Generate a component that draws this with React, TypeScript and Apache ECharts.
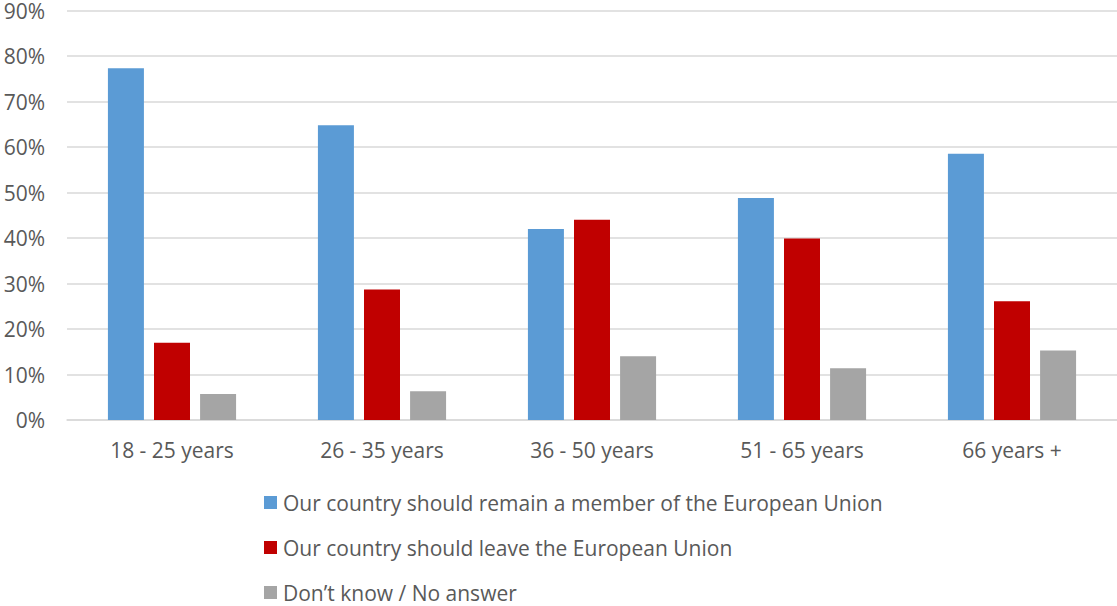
import React, { useEffect, useRef } from "react";
import * as echarts from "echarts";

const categories = ["18 - 25 years", "26 - 35 years", "36 - 50 years", "51 - 65 years", "66 years +"];
const remainValues = [77.3, 64.8, 42.0, 48.8, 58.5];
const leaveValues = [17.0, 28.7, 44.0, 39.9, 26.1];
const dontKnowValues = [5.7, 6.3, 14.0, 11.4, 15.3];
const seriesNames = [
  "Our country should remain a member of the European Union",
  "Our country should leave the European Union",
  "Don\u2019t know / No answer",
];
const colors = ["#5B9BD5", "#C00000", "#A5A5A5"];

export default function App() {
  const ref = useRef<HTMLDivElement>(null);
  useEffect(() => {
    if (!ref.current) return;
    const chart = echarts.init(ref.current, undefined, { renderer: "svg" });
    const font = "'Open Sans', sans-serif";
    const mk = (name: string, data: number[], color: string) => ({
      name,
      type: "bar",
      data,
      barWidth: 36,
      barGap: "28%",
      itemStyle: { color },
    });
    chart.setOption({
      animation: false,
      textStyle: { fontFamily: font },
      grid: { left: 67, right: 0, top: 10, bottom: 186, containLabel: false },
      legend: {
        orient: "vertical",
        left: 264,
        top: 492,
        padding: 0,
        height: 130,
        itemWidth: 13,
        itemHeight: 13,
        itemGap: 24,
        icon: "rect",
        textStyle: { fontFamily: font, fontSize: 21, color: "#595959", padding: [0, 0, 0, 1] },
        data: seriesNames,
      },
      xAxis: {
        type: "category",
        data: categories,
        axisLine: { lineStyle: { color: "#D9D9D9", width: 1.5 } },
        axisTick: { show: false },
        axisLabel: { fontFamily: font, fontSize: 21, color: "#595959", margin: 19 },
      },
      yAxis: {
        type: "value",
        min: 0,
        max: 90,
        interval: 10,
        axisLabel: {
          formatter: "{value}%",
          fontFamily: font,
          fontSize: 21,
          color: "#595959",
          margin: 22,
        },
        splitLine: { lineStyle: { color: "#D9D9D9", width: 1.5 } },
        axisLine: { show: false },
        axisTick: { show: false },
      },
      series: [
        mk(seriesNames[0], remainValues, colors[0]),
        mk(seriesNames[1], leaveValues, colors[1]),
        mk(seriesNames[2], dontKnowValues, colors[2]),
      ],
    });
    return () => chart.dispose();
  }, []);
  return <div ref={ref} style={{ width: 1117, height: 606, position: "absolute", left: 0, top: 0 }} />;
}
